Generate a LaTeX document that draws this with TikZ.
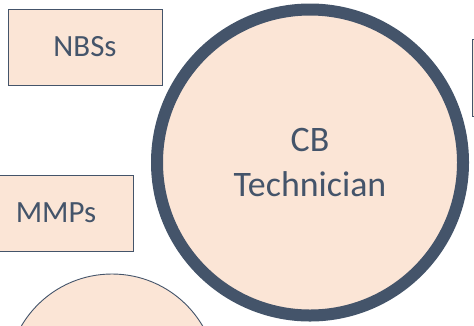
\documentclass[tikz,border=0pt]{standalone}
\usepackage{fontspec}
\setmainfont{Carlito}
\definecolor{slate}{HTML}{44546A}
\definecolor{peach}{HTML}{FBE5D6}
\begin{document}
\begin{tikzpicture}[x=1bp,y=-1bp,
  box/.style={draw=slate, line width=0.9bp, fill=peach},
  label/.style={text=slate, font=\fontsize{31}{38}\selectfont},
  hub/.style={circle, draw=slate, line width=12bp, fill=peach, text=slate,
    minimum size=306bp, inner sep=0pt, align=center,
    font=\fontsize{36}{45}\selectfont}]
  \useasboundingbox (0,0) rectangle (474,325);
  % boxes
  \draw[box] (8,9) rectangle (162,85);
  \node[label] (nbs) at (85,47) {NBSs};
  \draw[box] (-21,175) rectangle (133,251);
  \node[label] (mmp) at (56,213) {MMPs};
  \draw[box] (472.5,39) rectangle (560,116);
  % lower partial circle
  \draw[box] (112,379) circle (105);
  % central circle
  \node[hub] (cb) at (310,162.5) {CB\\Technician};
\end{tikzpicture}
\end{document}
